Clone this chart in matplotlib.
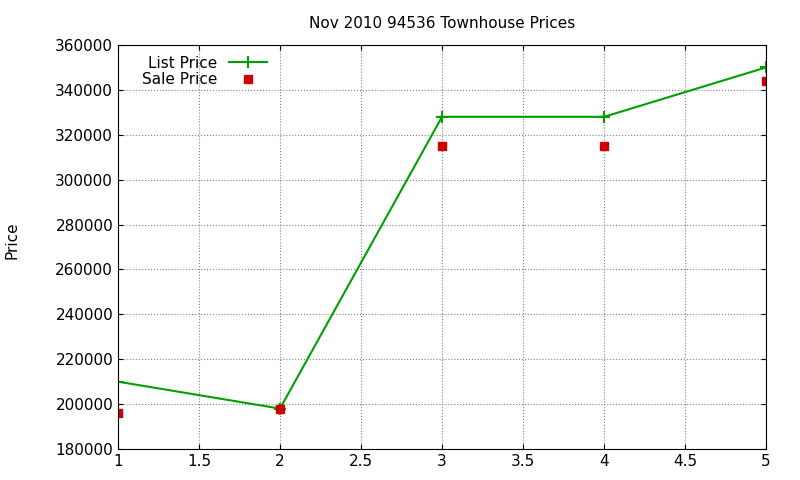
import matplotlib
matplotlib.use("Agg")
import matplotlib.pyplot as plt

x = [1, 2, 3, 4, 5]
list_price = [210000, 198000, 328000, 328000, 350000]
sale_price = [196000, 198000, 315000, 315000, 344000]

fig = plt.figure(figsize=(8, 4.8), dpi=100)
ax = fig.add_axes([118/800, 1-449/480, (766-118)/800, (449-45)/480])
ax.plot(x, list_price, color='#00a000', lw=1.5, marker='+', ms=8, mew=1.5, label='List Price')
ax.plot(x, sale_price, ls='none', marker='s', color='#d00000', ms=6, label='Sale Price')
ax.set_xlim(1, 5)
ax.set_ylim(180000, 360000)
ax.set_xticks([1, 1.5, 2, 2.5, 3, 3.5, 4, 4.5, 5])
ax.set_xticklabels(['1', '1.5', '2', '2.5', '3', '3.5', '4', '4.5', '5'])
ax.set_yticks(range(180000, 360001, 20000))
ax.grid(True, ls=':', color='#808080', lw=0.8)
ax.tick_params(direction='in', top=True, right=True, labelsize=11)
ax.set_title('Nov 2010 94536 Townhouse Prices', fontsize=11, pad=12)
fig.text(12/800, 0.5, 'Price', rotation=90, va='center', ha='center', fontsize=11)
leg = ax.legend(loc='upper left', bbox_to_anchor=(0.02, 1.0), frameon=False, markerfirst=False,
                fontsize=11, handlelength=2.5, borderpad=0.2, labelspacing=0.1)
for t in leg.get_texts():
    t.set_ha('right')
fig.savefig('out.png', dpi=100)
